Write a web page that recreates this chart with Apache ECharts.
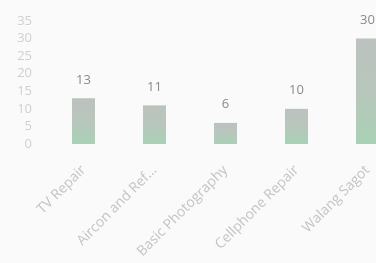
<!DOCTYPE html>
<html lang="en">
<head>
    <meta charset="UTF-8">
    <title>Training courses</title>
    <style>
        html, body { margin: 0; padding: 0; background: #fafafa; }
        #chart { width: 376px; height: 263px; }
    </style>
</head>
<body>
    <div id="chart"></div>
    <script src="https://cdn.jsdelivr.net/npm/echarts@6/dist/echarts.min.js"></script>
    <script>
        // data
        const categories = ['TV Repair', 'Aircon and Ref...', 'Basic Photography', 'Cellphone Repair', 'Walang Sagot']
        const values = [13, 11, 6, 10, 30]
        const yTicks = [0, 5, 10, 15, 20, 25, 30, 35]

        const myChart = echarts.init(document.getElementById('chart'))
        const barColor = new echarts.graphic.LinearGradient(0, 0, 0, 1, [
            { offset: 0, color: '#bcc2be' },
            { offset: 0.5, color: '#b8c6bc' },
            { offset: 1, color: '#a9d1b5' }
        ])

        myChart.setOption({
            backgroundColor: '#fafafa',
            textStyle: { fontFamily: 'Open Sans' },
            // the plot runs past the right edge, the last bar is cut off
            grid: { left: 48, width: 355, top: 21, bottom: 119, outerBoundsMode: 'none', containLabel: false },
            xAxis: {
                type: 'category',
                data: categories,
                axisLine: { show: false },
                axisTick: { show: false },
                axisLabel: {
                    rotate: 45,
                    margin: 24,
                    color: '#c4c4c4',
                    fontSize: 14,
                    interval: 0
                }
            },
            yAxis: {
                type: 'value',
                min: yTicks[0],
                max: yTicks[yTicks.length - 1],
                interval: 5,
                splitLine: { show: false },
                axisLine: { show: false },
                axisTick: { show: false },
                axisLabel: {
                    margin: 16,
                    color: '#d0d0d0',
                    fontSize: 13
                }
            },
            series: [{
                type: 'bar',
                data: values,
                barWidth: 23,
                itemStyle: { color: barColor },
                label: {
                    show: true,
                    position: 'top',
                    distance: 12,
                    color: '#8a8a8a',
                    fontSize: 13
                }
            }]
        })
    </script>
</body>
</html>
